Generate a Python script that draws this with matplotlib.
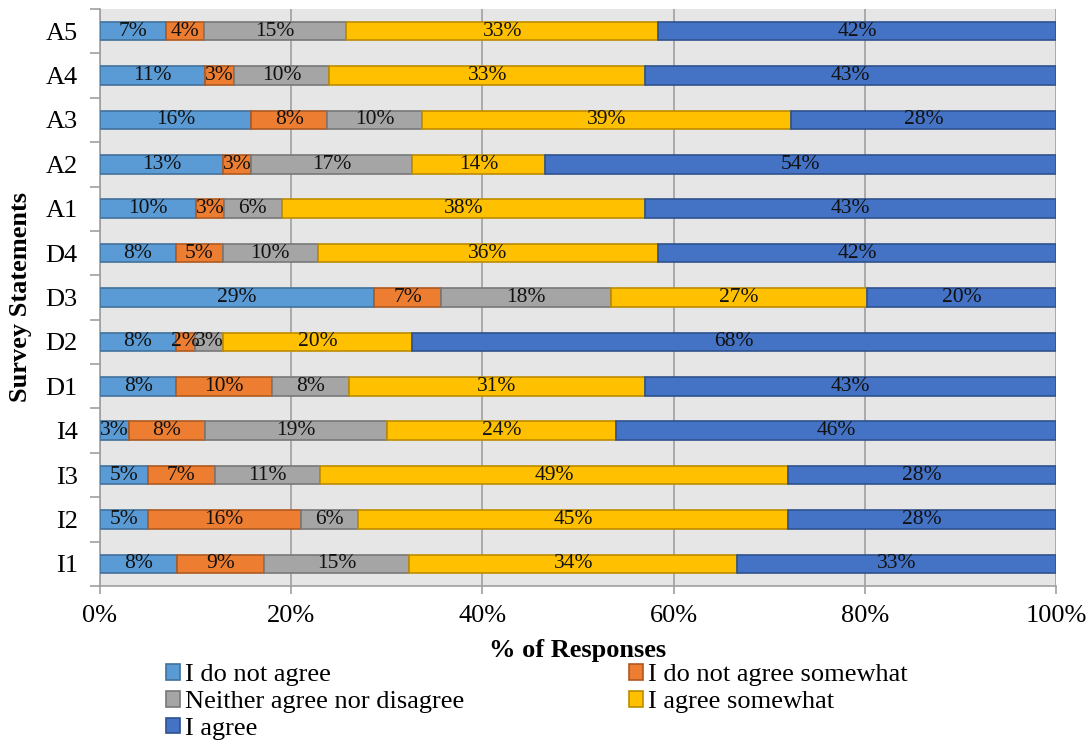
import numpy as np
import matplotlib
matplotlib.use("Agg")
import matplotlib.pyplot as plt

plt.rcParams['font.family'] = ['Liberation Serif', 'DejaVu Serif']

statements = ["I1", "I2", "I3", "I4", "D1", "D2", "D3", "D4",
              "A1", "A2", "A3", "A4", "A5"]
responses = ["I do not agree", "I do not agree somewhat",
             "Neither agree nor disagree", "I agree somewhat", "I agree"]

# percent per statement, bottom row (I1) first
not_agree = [8, 5, 5, 3, 8, 8, 29, 8, 10, 13, 16, 11, 7]
not_agree_somewhat = [9, 16, 7, 8, 10, 2, 7, 5, 3, 3, 8, 3, 4]
neutral = [15, 6, 11, 19, 8, 3, 18, 10, 6, 17, 10, 10, 15]
agree_somewhat = [34, 45, 49, 24, 31, 20, 27, 36, 38, 14, 39, 33, 33]
agree = [33, 28, 28, 46, 43, 68, 20, 42, 43, 54, 28, 43, 42]

colors = ["#5B9BD5", "#ED7D31", "#A5A5A5", "#FFC000", "#4472C4"]
edges = ["#41719C", "#AE5A21", "#787878", "#BC8C00", "#2F528F"]

series = np.array([not_agree, not_agree_somewhat, neutral, agree_somewhat, agree], dtype=float)
shares = series / series.sum(axis=0)   # 100% stacked

fig = plt.figure(figsize=(10.9, 7.47), dpi=100)
ax = fig.add_axes([0.0917, 0.2155, 0.8771, 0.7725])
ax.set_facecolor("#E7E6E6")

y = np.arange(len(statements))
left = np.zeros(len(statements))
handles = []
for i, name in enumerate(responses):
    bars = ax.barh(y, shares[i], left=left, height=0.42, color=colors[i],
                   edgecolor=edges[i], linewidth=1.2, label=name, zorder=3)
    handles.append(bars)
    for k in range(len(statements)):
        ax.text(left[k] + shares[i][k] / 2, y[k], f"{series[i][k]:.0f}%",
                ha="center", va="center", fontsize=15.5, color="#111111",
                zorder=4, clip_on=False)
    left += shares[i]

ax.set_xlim(0, 1)
ax.set_ylim(-0.5, len(statements) - 0.5)
ax.set_xticks(np.arange(0, 1.01, 0.2))
ax.set_xticklabels([f"{v}%" for v in range(0, 101, 20)], fontsize=19)
ax.set_yticks(y)
ax.set_yticklabels(statements, fontsize=19)
ax.set_yticks(np.arange(-0.5, len(statements), 1), minor=True)
ax.tick_params(axis="y", which="major", length=0, pad=16)
ax.tick_params(axis="y", which="minor", length=7, color="#A0A0A0", width=1.2)
ax.tick_params(axis="x", length=6, color="#A0A0A0", width=1.2, pad=8)
ax.grid(axis="x", color="#A0A0A0", linewidth=1.2, zorder=1)

for side in ["top", "right"]:
    ax.spines[side].set_visible(False)
for side in ["left", "bottom"]:
    ax.spines[side].set_color("#A0A0A0")
    ax.spines[side].set_linewidth(1.2)

ax.set_xlabel("% of Responses", fontsize=19, fontweight="bold", labelpad=8)
ax.set_ylabel("Survey Statements", fontsize=19, fontweight="bold", labelpad=10)

order = [0, 2, 4, 1, 3]
fig.legend([handles[i] for i in order], [responses[i] for i in order],
           loc="upper left", bbox_to_anchor=(0.152, 0.111), ncol=2,
           frameon=False, fontsize=19, handlelength=0.53, handleheight=0.53,
           handletextpad=0.2, labelspacing=0.18, columnspacing=6.25,
           borderpad=0, borderaxespad=0)

fig.savefig("out.png", dpi=100)
